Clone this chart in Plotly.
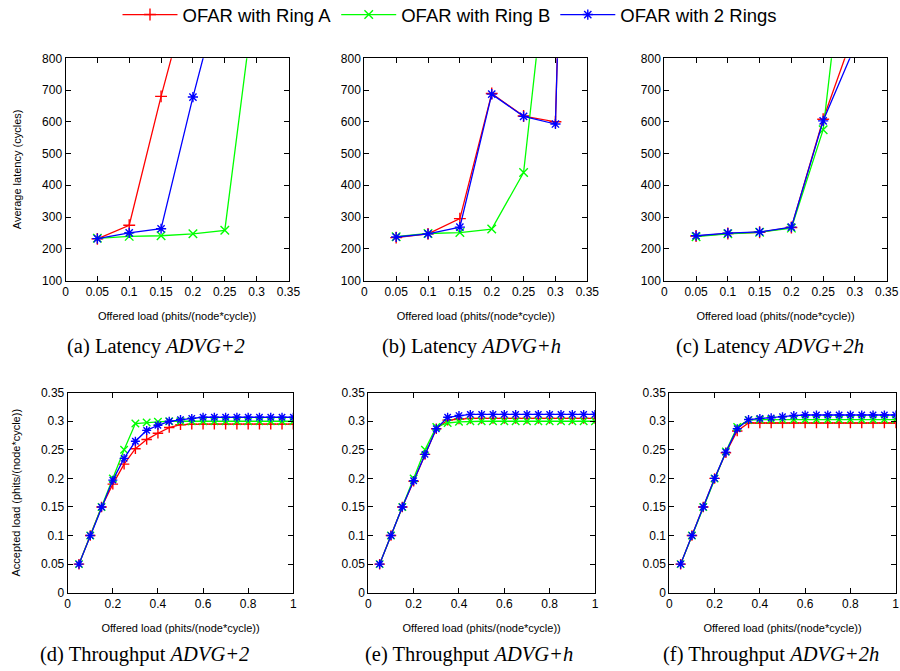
import plotly.graph_objects as go

W, H = 900, 671

series_names = ["OFAR with Ring A", "OFAR with Ring B", "OFAR with 2 Rings"]
series_colors = ["#ff0000", "#00ff00", "#0000ff"]
series_symbols = ["cross-thin-open", "x-thin-open", "asterisk-open"]

# Latency panels (offered load vs average latency)
lat_x = [0.05, 0.1, 0.15, 0.2, 0.25, 0.3, 0.35]
lat_a_ringA = [231, 274, 680, 1055]
lat_a_ringB = [233, 239, 241, 247, 258, 1044]
lat_a_2rings = [232, 250, 263, 678, 1062]

lat_b_ringA = [235, 247, 295, 689, 618, 600, 4150]
lat_b_ringB = [238, 248, 251, 262, 440, 1349]
lat_b_2rings = [237, 247, 268, 687, 617, 593, 4150]

lat_c_ringA = [240, 248, 252, 267, 608, 890]
lat_c_ringB = [238, 247, 252, 265, 575, 1440]
lat_c_2rings = [241, 249, 253, 268, 603, 838]

# Throughput panels (offered load vs accepted load)
thr_x = [0.05, 0.1, 0.15, 0.2, 0.25, 0.3, 0.35, 0.4, 0.45, 0.5,
         0.55, 0.6, 0.65, 0.7, 0.75, 0.8, 0.85, 0.9, 0.95, 1.0]
thr_d_ringA = [0.05, 0.1, 0.15, 0.19, 0.225, 0.252, 0.268, 0.279, 0.289, 0.294,
               0.295, 0.295, 0.295, 0.295, 0.295, 0.295, 0.295, 0.295, 0.295, 0.295]
thr_d_ringB = [0.05, 0.1, 0.15, 0.2, 0.25, 0.296, 0.298, 0.299, 0.3, 0.3,
               0.3, 0.3, 0.3, 0.3, 0.3, 0.3, 0.3, 0.3, 0.3, 0.3]
thr_d_2rings = [0.05, 0.1, 0.15, 0.197, 0.235, 0.265, 0.284, 0.293, 0.3, 0.303,
                0.305, 0.307, 0.307, 0.307, 0.307, 0.307, 0.307, 0.307, 0.307, 0.307]

thr_e_ringA = [0.05, 0.1, 0.15, 0.195, 0.242, 0.287, 0.302, 0.304, 0.305, 0.305,
               0.305, 0.305, 0.305, 0.305, 0.305, 0.305, 0.305, 0.305, 0.305, 0.305]
thr_e_ringB = [0.05, 0.1, 0.15, 0.2, 0.25, 0.29, 0.297, 0.299, 0.3, 0.3,
               0.3, 0.3, 0.3, 0.3, 0.3, 0.3, 0.3, 0.3, 0.3, 0.3]
thr_e_2rings = [0.05, 0.1, 0.15, 0.196, 0.242, 0.287, 0.307, 0.31, 0.312, 0.312,
                0.312, 0.312, 0.312, 0.312, 0.312, 0.312, 0.312, 0.312, 0.312, 0.312]

thr_f_ringA = [0.05, 0.1, 0.15, 0.2, 0.245, 0.283, 0.297, 0.297, 0.297, 0.297,
               0.297, 0.297, 0.297, 0.297, 0.297, 0.297, 0.297, 0.297, 0.297, 0.297]
thr_f_ringB = [0.05, 0.1, 0.15, 0.2, 0.247, 0.29, 0.302, 0.303, 0.303, 0.303,
               0.303, 0.303, 0.303, 0.303, 0.303, 0.303, 0.303, 0.303, 0.303, 0.303]
thr_f_2rings = [0.05, 0.1, 0.15, 0.2, 0.246, 0.287, 0.303, 0.305, 0.306, 0.308,
                0.31, 0.311, 0.311, 0.311, 0.311, 0.311, 0.311, 0.311, 0.311, 0.311]

lat_ticks = [0, 0.05, 0.1, 0.15, 0.2, 0.25, 0.3, 0.35]
lat_yticks = [100, 200, 300, 400, 500, 600, 700, 800]
thr_ticks = [0, 0.2, 0.4, 0.6, 0.8, 1]
thr_yticks = [0, 0.05, 0.1, 0.15, 0.2, 0.25, 0.3, 0.35]

captions = [
    ("(a) Latency ", "ADVG+2"),
    ("(b) Latency ", "ADVG+h"),
    ("(c) Latency ", "ADVG+2h"),
    ("(d) Throughput ", "ADVG+2"),
    ("(e) Throughput ", "ADVG+h"),
    ("(f) Throughput ", "ADVG+2h"),
]

panels = [
    (lat_x, [lat_a_ringA, lat_a_ringB, lat_a_2rings]),
    (lat_x, [lat_b_ringA, lat_b_ringB, lat_b_2rings]),
    (lat_x, [lat_c_ringA, lat_c_ringB, lat_c_2rings]),
    (thr_x, [thr_d_ringA, thr_d_ringB, thr_d_2rings]),
    (thr_x, [thr_e_ringA, thr_e_ringB, thr_e_2rings]),
    (thr_x, [thr_f_ringA, thr_f_ringB, thr_f_2rings]),
]

# layout geometry (pixels)
px_x = [(65.5, 288.5), (364.3, 587.3), (664.3, 886.7),
        (67.7, 293.3), (368.3, 595.0), (669.3, 895.7)]
px_y = [(58.3, 280.5)] * 3 + [(392.7, 592.7)] * 3
cap_x = [156, 471, 770, 144, 469, 771]
cap_y = [346, 346, 346, 654, 654, 654]

font_sans = "Liberation Sans, Arial, sans-serif"
font_serif = "Liberation Serif, Times New Roman, serif"

fig = go.Figure()
layout = {}
for i, (xs, ys_list) in enumerate(panels):
    n = i + 1
    xa = "x" if n == 1 else f"x{n}"
    ya = "y" if n == 1 else f"y{n}"
    top = i < 3
    msize = 8.5 if top else 7.5
    for k, ys in enumerate(ys_list):
        fig.add_trace(go.Scatter(
            x=xs[:len(ys)], y=ys, xaxis=xa, yaxis=ya,
            mode="lines+markers", name=series_names[k],
            legendgroup=series_names[k], showlegend=(i == 0),
            line=dict(color=series_colors[k], width=1.3),
            marker=dict(symbol=series_symbols[k], size=msize,
                        color=series_colors[k],
                        line=dict(color=series_colors[k], width=1.4)),
            cliponaxis=True,
        ))
    x0, x1 = px_x[i]
    y0, y1 = px_y[i]
    common = dict(showline=True, linecolor="black", linewidth=1, mirror="ticks",
                  ticks="inside", ticklen=5, tickcolor="black", showgrid=False,
                  zeroline=False, tickfont=dict(family=font_sans, size=12, color="black"))
    xkey = "xaxis" if n == 1 else f"xaxis{n}"
    ykey = "yaxis" if n == 1 else f"yaxis{n}"
    layout[xkey] = dict(
        domain=[x0 / W, x1 / W], anchor=ya,
        range=[0, 0.35] if top else [0, 1],
        tickvals=lat_ticks if top else thr_ticks,
        title=dict(text="Offered load (phits/(node*cycle))",
                   font=dict(family=font_sans, size=11, color="black"), standoff=14),
        **common)
    ytitle = None
    if i == 0:
        ytitle = "Average latency (cycles)"
    elif i == 3:
        ytitle = "Accepted load (phits/(node*cycle))"
    ydict = dict(
        domain=[1 - y1 / H, 1 - y0 / H], anchor=xa,
        range=[100, 800] if top else [0, 0.35],
        tickvals=lat_yticks if top else thr_yticks,
        **common)
    if ytitle:
        ydict["title"] = dict(text=ytitle, font=dict(family=font_sans, size=11, color="black"),
                              standoff=18)
    layout[ykey] = ydict

annotations = []
for i, (plain, ital) in enumerate(captions):
    annotations.append(dict(
        text=f"{plain}<i>{ital}</i>", xref="paper", yref="paper",
        x=cap_x[i] / W, y=1 - cap_y[i] / H, xanchor="center", yanchor="middle",
        showarrow=False, font=dict(family=font_serif, size=20.5, color="black"),
    ))

fig.update_layout(
    width=W, height=H,
    margin=dict(l=0, r=0, t=0, b=0, autoexpand=False),
    paper_bgcolor="white", plot_bgcolor="white",
    showlegend=True,
    legend=dict(orientation="h", x=0.5, xanchor="center", y=1 - 15 / H, yanchor="middle",
                font=dict(family=font_sans, size=18.5, color="black"),
                bgcolor="rgba(0,0,0,0)", itemwidth=55),
    annotations=annotations,
    **layout,
)

fig.write_html("out.html")
